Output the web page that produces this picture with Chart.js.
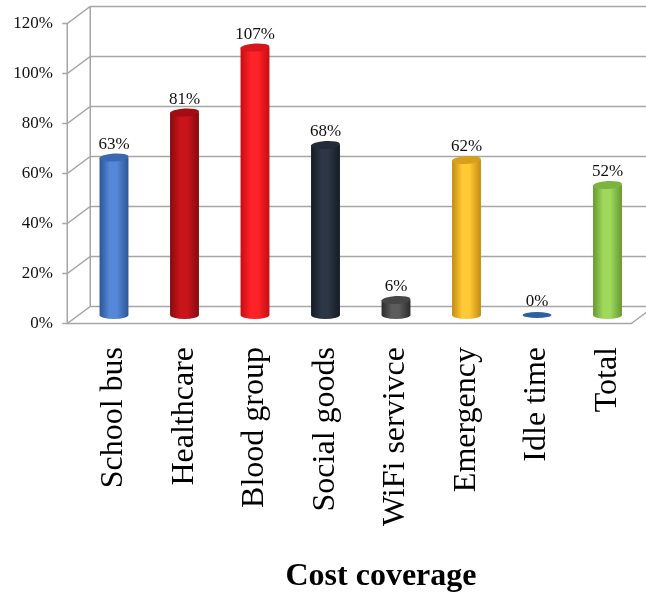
<!DOCTYPE html>
<html>
<head>
<meta charset="utf-8">
<script src="https://cdn.jsdelivr.net/npm/chart.js@4.4.1/dist/chart.umd.min.js"></script>
<style>
html, body { margin: 0; padding: 0; background: #fff; }
</style>
</head>
<body>
<canvas id="coverage" width="646" height="594"></canvas>
<script>
var categories = ['School bus', 'Healthcare', 'Blood group', 'Social goods', 'WiFi servivce', 'Emergency', 'Idle time', 'Total'];
var coverage = [0.63, 0.81, 1.07, 0.68, 0.06, 0.62, 0, 0.52];
var yTicks = [0, 0.2, 0.4, 0.6, 0.8, 1.0, 1.2];

// cylinder shading: edge colour, highlight colour, lid colour
var edgeColors  = ['#2b5597', '#870a0e', '#c40e13', '#141b24', '#2b2b2b', '#c48a10', '#2f5fa3', '#66982f'];
var lightColors = ['#5588d8', '#c9141b', '#ff2227', '#2c3644', '#5c5c5c', '#ffca35', '#2f5fa3', '#9ed95c'];
var lidColors   = ['#3b68b1', '#a20c12', '#d9141a', '#222b37', '#474747', '#d7a01c', '#2f5fa3', '#7db43f'];

var dx = 11.5, dy = 8.5;   // half depth of the 3D box
var ry = 4;                // cylinder lid radius (vertical)
var serif = '"Liberation Serif", "Times New Roman", serif';

function pct(v) { return Math.round(v * 100) + '%'; }

var box3d = {
    id: 'box3d',
    beforeDatasetsDraw: function(chart) {
        var c = chart.ctx, ys = chart.scales.y, a = chart.chartArea;
        var l = a.left, r = a.right;
        var top = ys.getPixelForValue(yTicks[yTicks.length - 1]);
        var base = ys.getPixelForValue(0);
        c.save();
        c.strokeStyle = '#a6a6a6';
        c.lineWidth = 1.5;
        yTicks.forEach(function(v) {
            var py = ys.getPixelForValue(v);
            c.beginPath();
            c.moveTo(l - dx - 5, py + dy);
            c.lineTo(l - dx, py + dy);
            c.lineTo(l + dx, py - dy);
            c.lineTo(r + dx, py - dy);
            c.stroke();
        });
        c.beginPath();
        c.moveTo(l - dx, top + dy); c.lineTo(l - dx, base + dy);
        c.moveTo(l + dx, top - dy); c.lineTo(l + dx, base - dy);
        c.moveTo(l - dx, base + dy); c.lineTo(r - dx, base + dy); c.lineTo(r + dx, base - dy);
        c.stroke();

        c.fillStyle = '#111';
        c.font = '17px ' + serif;
        c.textAlign = 'right';
        c.textBaseline = 'middle';
        yTicks.forEach(function(v) {
            c.fillText(pct(v), 53, ys.getPixelForValue(v) + dy);
        });
        c.restore();
    },
    afterDatasetsDraw: function(chart) {
        var c = chart.ctx;
        var meta = chart.getDatasetMeta(0);
        c.save();
        meta.data.forEach(function(bar, i) {
            var p = bar.getProps(['x', 'y', 'base', 'width'], true);
            var rx = p.width / 2, x0 = p.x - rx, x1 = p.x + rx;
            if (coverage[i] > 0) {
                var g = c.createLinearGradient(x0, 0, x1, 0);
                g.addColorStop(0, edgeColors[i]);
                g.addColorStop(0.35, lightColors[i]);
                g.addColorStop(0.6, lightColors[i]);
                g.addColorStop(1, edgeColors[i]);
                c.fillStyle = g;
                c.beginPath();
                c.moveTo(x0, p.y);
                c.lineTo(x0, p.base);
                c.ellipse(p.x, p.base, rx, ry, 0, Math.PI, 0, true);
                c.lineTo(x1, p.y);
                c.closePath();
                c.fill();
                c.fillStyle = lidColors[i];
                c.beginPath();
                c.ellipse(p.x, p.y, rx, ry, -0.06, 0, Math.PI * 2);
                c.fill();
            } else {
                c.fillStyle = lidColors[i];
                c.beginPath();
                c.ellipse(p.x, p.base, rx, ry - 1, 0, 0, Math.PI * 2);
                c.fill();
            }
            c.fillStyle = '#111';
            c.font = '17px ' + serif;
            c.textAlign = 'center';
            c.textBaseline = 'alphabetic';
            c.fillText(pct(coverage[i]), p.x, p.y - 9);
        });
        c.restore();
    },
    afterDraw: function(chart) {
        var c = chart.ctx, xs = chart.scales.x;
        c.save();
        c.fillStyle = '#000';
        c.font = '32px ' + serif;
        c.textAlign = 'right';
        c.textBaseline = 'middle';
        categories.forEach(function(name, i) {
            c.save();
            c.translate(xs.getPixelForValue(i), 347);
            c.rotate(-Math.PI / 2);
            c.fillText(name, 0, 0);
            c.restore();
        });
        c.font = 'bold 32px ' + serif;
        c.textAlign = 'center';
        c.textBaseline = 'alphabetic';
        c.fillText('Cost coverage', 381, 585);
        c.restore();
    }
};

var chart = new Chart(document.getElementById('coverage'), {
    type: 'bar',
    data: {
        labels: categories,
        datasets: [{
            data: coverage,
            backgroundColor: 'rgba(0,0,0,0)',
            borderWidth: 0,
            barPercentage: 0.41,
            categoryPercentage: 1
        }]
    },
    options: {
        responsive: false,
        animation: false,
        layout: { padding: { left: 78.75, right: 3.25, top: 15, bottom: 279 } },
        plugins: { legend: { display: false }, tooltip: { enabled: false } },
        scales: {
            x: { display: false },
            y: { display: false, min: 0, max: 1.2 }
        }
    },
    plugins: [box3d]
});
</script>
</body>
</html>
